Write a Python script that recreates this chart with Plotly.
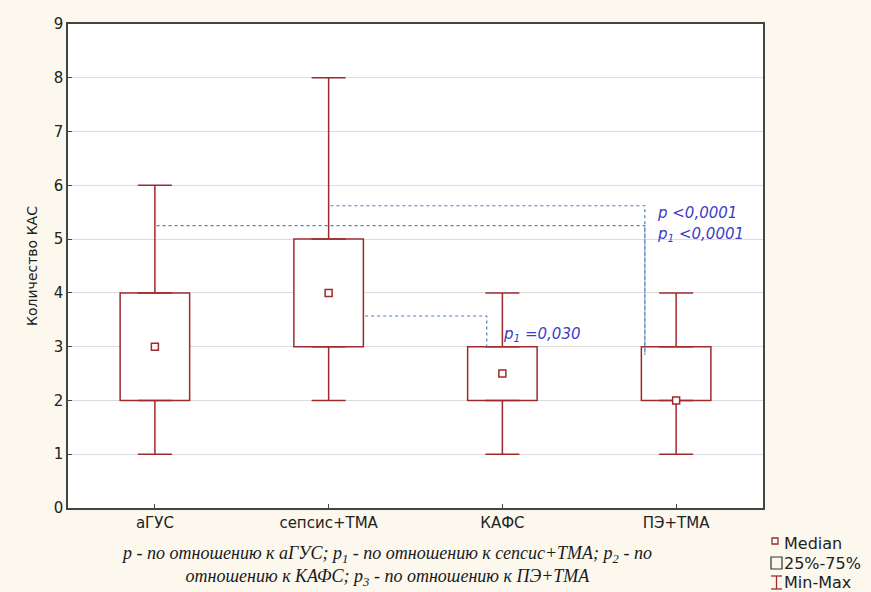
import plotly.graph_objects as go

# Group statistics (count of KAS per group)
categories = ["аГУС", "сепсис+ТМА", "КАФС", "ПЭ+ТМА"]
minimum = [1, 2, 1, 1]
q1 = [2, 3, 2, 2]
median = [3, 4, 2.5, 2]
q3 = [4, 5, 3, 3]
maximum = [6, 8, 4, 4]

# Pairwise comparisons: groups joined by a dashed bracket
comparisons = [
    {"a": 0, "b": 3, "y": 5.25, "start": 0.0},
    {"a": 1, "b": 3, "y": 5.62, "start": 0.0},
    {"a": 1, "b": 2, "y": 3.57, "start": 0.2},
]
p_labels = [
    {"x": 2.88, "y": 5.48, "text": "p <0,0001"},
    {"x": 2.88, "y": 5.08, "text": "p<sub>1</sub> <0,0001"},
    {"x": 1.99, "y": 3.22, "text": "p<sub>1</sub> =0,030"},
]

RED = "#9e2a2d"
BLUE_LINE = "#4f7fc4"
BLUE_TEXT = "#3a3ec8"
SANS = "DejaVu Sans, Arial"
BOX_W = 0.4

xs = list(range(len(categories)))
fig = go.Figure()

# Lower whiskers (q1 down to min)
fig.add_trace(go.Scatter(
    x=xs, y=q1, mode="markers", marker=dict(size=1, opacity=0),
    error_y=dict(type="data", symmetric=False,
                 array=[0] * len(xs),
                 arrayminus=[a - b for a, b in zip(q1, minimum)],
                 color=RED, thickness=1.5, width=17),
    hoverinfo="skip", showlegend=False))

# Upper whiskers (q3 up to max)
fig.add_trace(go.Scatter(
    x=xs, y=q3, mode="markers", marker=dict(size=1, opacity=0),
    error_y=dict(type="data", symmetric=False,
                 array=[a - b for a, b in zip(maximum, q3)],
                 arrayminus=[0] * len(xs),
                 color=RED, thickness=1.5, width=17),
    hoverinfo="skip", showlegend=False))

# Interquartile boxes
fig.add_trace(go.Bar(
    x=xs, y=[b - a for a, b in zip(q1, q3)], base=q1, width=BOX_W,
    marker=dict(color="white", line=dict(color=RED, width=1.5)),
    hoverinfo="skip", showlegend=False))

# Medians
fig.add_trace(go.Scatter(
    x=xs, y=median, mode="markers",
    marker=dict(symbol="square", size=7, color="white",
                line=dict(color=RED, width=1.5)),
    hoverinfo="skip", showlegend=False))

# Significance brackets
for c in comparisons:
    a, b = c["a"], c["b"]
    x0 = a + c["start"]
    xv = b - BOX_W / 2 + 0.02 if c["start"] == 0 else b - BOX_W / 2 + 0.11
    y_end = q3[b] - (0.15 if c["start"] == 0 else 0.0)
    fig.add_trace(go.Scatter(
        x=[x0 + 0.01, xv, xv], y=[c["y"], c["y"], y_end], mode="lines",
        line=dict(color=BLUE_LINE, width=1.2, dash="3px,3px"),
        hoverinfo="skip", showlegend=False))

for lab in p_labels:
    fig.add_annotation(x=lab["x"], y=lab["y"], xref="x", yref="y",
                       text="<i>" + lab["text"] + "</i>", showarrow=False,
                       xanchor="left", yanchor="middle",
                       font=dict(family=SANS, size=15, color=BLUE_TEXT))

W, H = 871, 592
L, R, T, B = 68, 108, 24, 84
pw, ph = W - L - R, H - T - B


def px(x):
    return (x - L) / pw


def py(y):
    return (H - B - y) / ph


# Footnote
fig.add_annotation(
    x=px(386), y=py(566), xref="paper", yref="paper", showarrow=False,
    xanchor="center", yanchor="middle", align="center",
    text=("<i>p - по отношению к аГУС; p<sub>1</sub> - по отношению к сепсис+ТМА; "
          "p<sub>2</sub> - по</i><br><i>отношению к КАФС; p<sub>3</sub> - по отношению к ПЭ+ТМА</i>"),
    font=dict(family="Liberation Serif, Times New Roman", size=18, color="#1a1a1a"))

# Legend key
shapes = []
shapes.append(dict(type="rect", xref="paper", yref="paper",
                   x0=px(772), x1=px(778), y0=py(544), y1=py(538),
                   line=dict(color=RED, width=1.3), fillcolor="white"))
shapes.append(dict(type="rect", xref="paper", yref="paper",
                   x0=px(771), x1=px(782), y0=py(569), y1=py(557),
                   line=dict(color="#333333", width=1.2), fillcolor="rgba(0,0,0,0)"))
shapes.append(dict(type="line", xref="paper", yref="paper",
                   x0=px(776.5), x1=px(776.5), y0=py(589), y1=py(576),
                   line=dict(color=RED, width=1.3)))
shapes.append(dict(type="line", xref="paper", yref="paper",
                   x0=px(771), x1=px(782), y0=py(576), y1=py(576),
                   line=dict(color=RED, width=1.3)))
shapes.append(dict(type="line", xref="paper", yref="paper",
                   x0=px(771), x1=px(782), y0=py(589), y1=py(589),
                   line=dict(color=RED, width=1.3)))
for label, yy in [("Median", 543), ("25%-75%", 563), ("Min-Max", 582)]:
    fig.add_annotation(x=px(782), y=py(yy), xref="paper", yref="paper",
                       text=label, showarrow=False, xanchor="left", yanchor="middle",
                       font=dict(family=SANS, size=16, color="#222"))

fig.update_layout(
    width=W, height=H,
    margin=dict(l=L, r=R, t=T, b=B),
    paper_bgcolor="#fcf8ee",
    plot_bgcolor="white",
    barmode="overlay",
    shapes=shapes,
    font=dict(family=SANS, color="#222"),
)
fig.update_xaxes(
    range=[-0.5, 3.5], tickmode="array", tickvals=xs, ticktext=categories,
    ticks="inside", ticklen=4, tickcolor="#444", showgrid=False,
    showline=True, mirror=True, linecolor="#444", linewidth=1.5,
    tickfont=dict(size=15), zeroline=False,
)
fig.update_yaxes(
    range=[0, 9], dtick=1, ticks="inside", ticklen=4, tickcolor="#444",
    showgrid=True, gridcolor="#dcdcdc", gridwidth=1,
    showline=True, mirror=True, linecolor="#444", linewidth=1.5,
    tickfont=dict(size=15), zeroline=False,
    title=dict(text="Количество КАС", font=dict(size=14), standoff=13),
)

fig.write_html("out.html")
